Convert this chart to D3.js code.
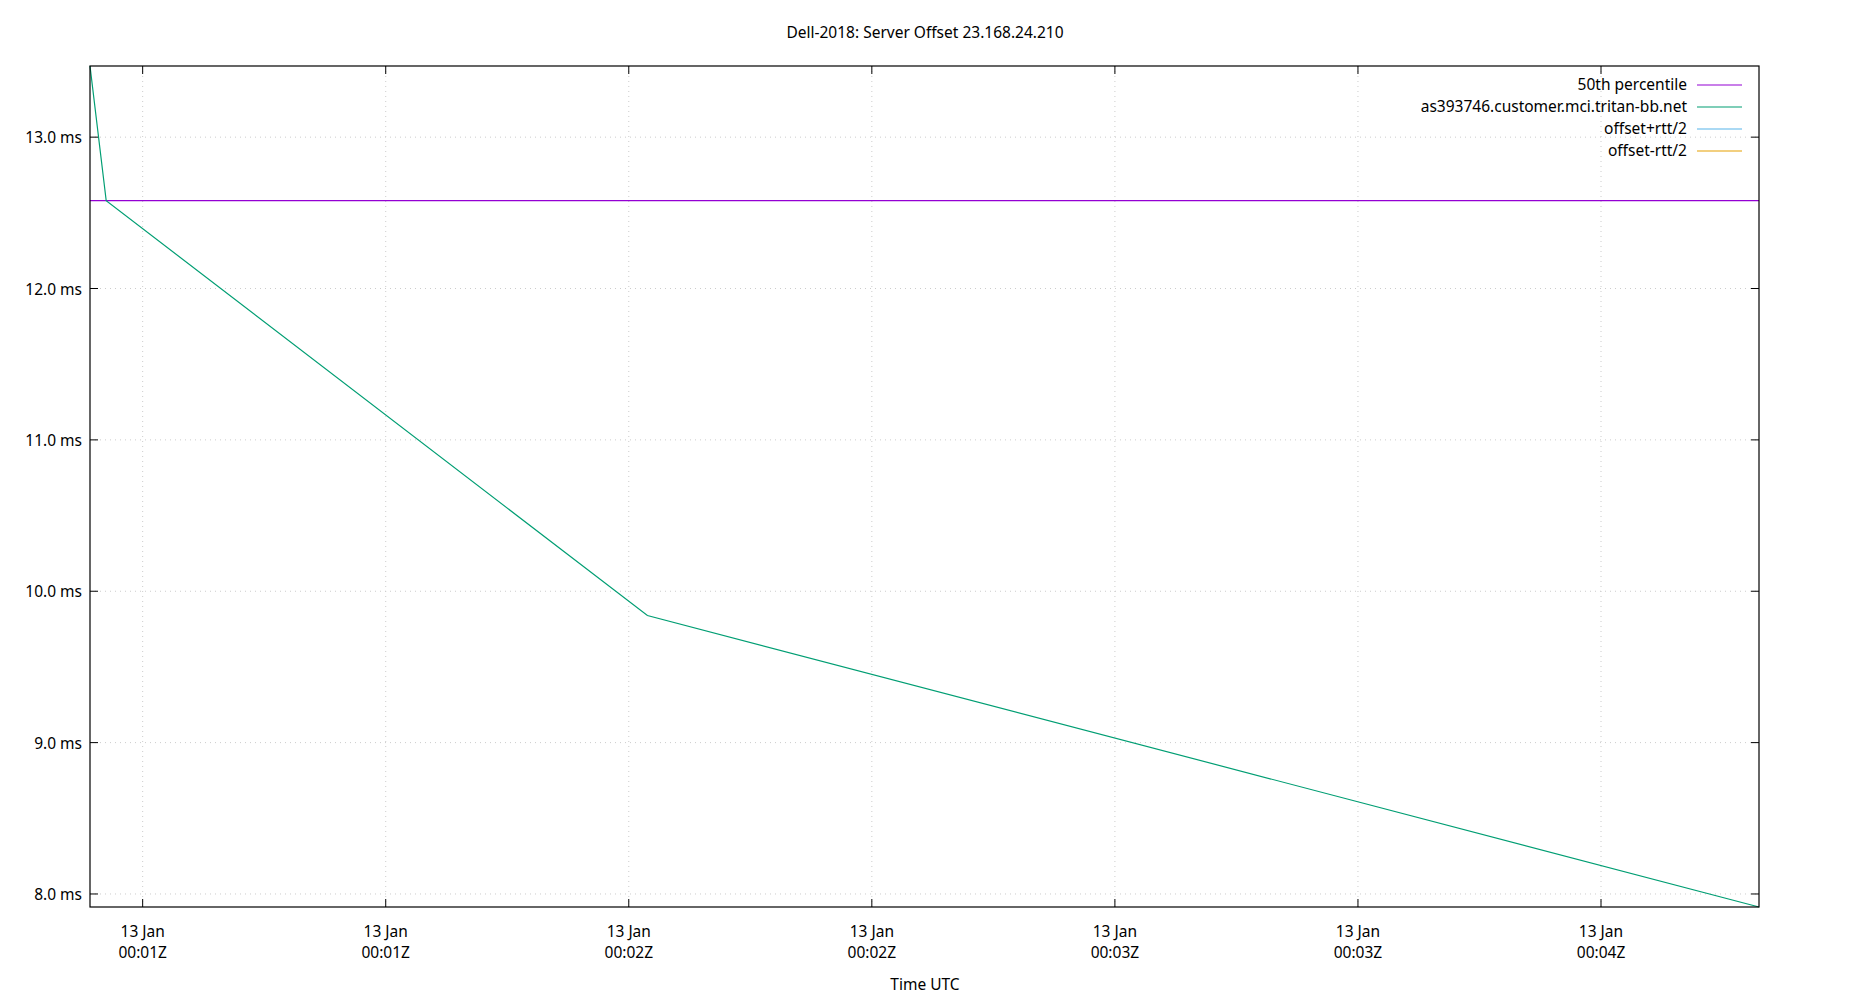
<!DOCTYPE html>
<html><head><meta charset="utf-8">
<script src="https://cdn.jsdelivr.net/npm/d3@7"></script>
<style>body{margin:0;background:#fff}text{font-family:"Noto Sans",sans-serif;font-size:15.5px;fill:#000}</style>
</head><body><svg id="c" width="1850" height="1000"></svg>
<script>
// time of each sample (seconds after 13 Jan 00:00Z) and offset in ms
var times = [53.5, 55.5, 122.3, 259.5];
var offsets = [13.47, 12.58, 9.84, 7.914];
var median = 12.58;
var yTicks = [8, 9, 10, 11, 12, 13];
var xTicks = [60, 90, 120, 150, 180, 210, 240];
var legendNames = ["50th percentile", "as393746.customer.mci.tritan-bb.net", "offset+rtt/2", "offset-rtt/2"];
var legendColors = ["#9400d3", "#009e73", "#56b4e9", "#e69f00"];

var L = 90, R = 1759, T = 66, B = 907;
var svg = d3.select("#c");
var x = d3.scaleLinear().domain([53.5, 259.5]).range([L, R]);
var y = d3.scaleLinear().domain([7.914, 13.47]).range([B, T]);

function tlabel(s) {
    var m = Math.floor(s / 60);
    return "00:0" + m + "Z";
}

// grid
svg.selectAll(".gy").data(yTicks).enter().append("line")
    .attr("x1", L).attr("x2", R).attr("y1", d => y(d)).attr("y2", d => y(d))
    .attr("stroke", "#ccc").attr("stroke-dasharray", "1,4");
svg.selectAll(".gx").data(xTicks).enter().append("line")
    .attr("y1", T).attr("y2", B).attr("x1", d => x(d)).attr("x2", d => x(d))
    .attr("stroke", "#ccc").attr("stroke-dasharray", "1,4");

// ticks
yTicks.forEach(function (d) {
    svg.append("line").attr("x1", L).attr("x2", L + 8).attr("y1", y(d)).attr("y2", y(d)).attr("stroke", "#000");
    svg.append("line").attr("x1", R - 8).attr("x2", R).attr("y1", y(d)).attr("y2", y(d)).attr("stroke", "#000");
    svg.append("text").attr("x", L - 8).attr("y", y(d) + 6).attr("text-anchor", "end").text(d.toFixed(1) + " ms");
});
xTicks.forEach(function (d) {
    svg.append("line").attr("y1", B).attr("y2", B - 8).attr("x1", x(d)).attr("x2", x(d)).attr("stroke", "#000");
    svg.append("line").attr("y1", T).attr("y2", T + 8).attr("x1", x(d)).attr("x2", x(d)).attr("stroke", "#000");
    var t = svg.append("text").attr("text-anchor", "middle");
    t.append("tspan").attr("x", x(d)).attr("y", 937).text("13 Jan");
    t.append("tspan").attr("x", x(d)).attr("y", 958).text(tlabel(d));
});

// median
svg.append("line").attr("x1", L).attr("x2", R).attr("y1", y(median)).attr("y2", y(median))
    .attr("stroke", legendColors[0]).attr("stroke-width", 1.2);

// series
svg.append("path").datum(d3.range(times.length))
    .attr("fill", "none").attr("stroke", legendColors[1]).attr("stroke-width", 1.2)
    .attr("d", d3.line().x(i => x(times[i])).y(i => y(offsets[i])));

svg.append("rect").attr("x", L).attr("y", T).attr("width", R - L).attr("height", B - T)
    .attr("fill", "none").attr("stroke", "#000").attr("stroke-width", 1.2);

// legend
legendNames.forEach(function (n, i) {
    var yy = 85 + i * 22;
    svg.append("text").attr("x", 1687).attr("y", yy + 5).attr("text-anchor", "end").text(n);
    svg.append("line").attr("x1", 1697).attr("x2", 1742).attr("y1", yy).attr("y2", yy)
        .attr("stroke", legendColors[i]).attr("stroke-width", 1.2);
});

svg.append("text").attr("x", 925).attr("y", 38).attr("text-anchor", "middle").text("Dell-2018: Server Offset 23.168.24.210");
svg.append("text").attr("x", 925).attr("y", 990).attr("text-anchor", "middle").text("Time UTC");
</script></body></html>
